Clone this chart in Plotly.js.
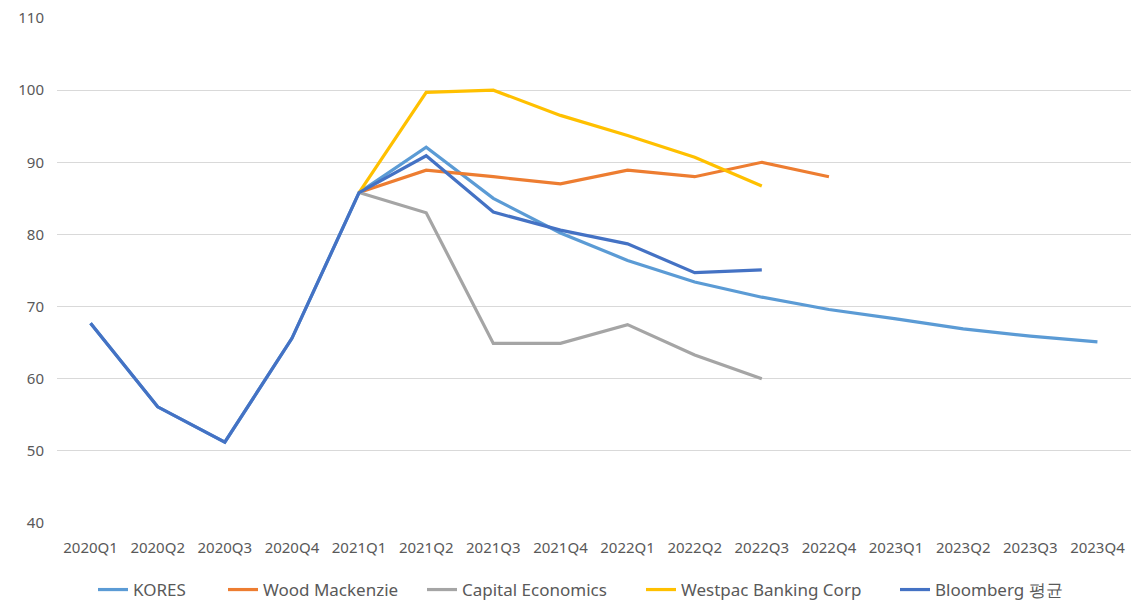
<!DOCTYPE html>
<html>
<head>
<meta charset="utf-8">
<script src="https://cdn.plot.ly/plotly-3.0.1.min.js"></script>
<style>html,body{margin:0;padding:0;background:#fff;}#chart{width:1131px;height:602px;}</style>
</head>
<body>
<div id="chart"></div>
<script>
const quarters = ["2020Q1","2020Q2","2020Q3","2020Q4","2021Q1","2021Q2","2021Q3","2021Q4","2022Q1","2022Q2","2022Q3","2022Q4","2023Q1","2023Q2","2023Q3","2023Q4"];
const kores = [67.7,56.1,51.2,65.6,85.8,92.1,85.0,80.2,76.4,73.4,71.3,69.6,68.3,66.9,65.9,65.1];
const woodMackenzie = [null,null,null,null,85.8,88.9,88.0,87.0,88.9,88.0,90.0,88.0,null,null,null,null];
const capitalEconomics = [null,null,null,null,85.8,83.0,64.9,64.9,67.5,63.3,60.0,null,null,null,null,null];
const westpac = [null,null,null,null,85.8,99.7,100.0,96.5,93.7,90.7,86.7,null,null,null,null,null];
const bloomberg = [67.7,56.1,51.2,65.6,85.8,90.9,83.1,80.6,78.7,74.7,75.1,null,null,null,null,null];
const yTicks = [40,50,60,70,80,90,100,110];

const names = ["KORES","Wood Mackenzie","Capital Economics","Westpac Banking Corp","Bloomberg 평균"];
const colors = ["#5B9BD5","#ED7D31","#A5A5A5","#FFC000","#4472C4"];
const series = [kores, woodMackenzie, capitalEconomics, westpac, bloomberg];
const legendIds = ["legend","legend2","legend3","legend4","legend5"];

const traces = series.map((s,i)=>({
  x: quarters, y: s, name: names[i], type:'scatter', mode:'lines',
  line:{color:colors[i], width:3.2}, connectgaps:false, legend: legendIds[i]
}));

const ML = 57, PW = 1131 - 57;
const textStarts = [135, 265, 464, 683, 937];
const layout = {
  width:1131, height:602,
  margin:{l:ML, r:0, t:18, b:79},
  paper_bgcolor:'#fff', plot_bgcolor:'#fff',
  font:{family:'"Noto Sans", sans-serif', size:15, color:'#595959'},
  showlegend:true,
  xaxis:{type:'category', range:[-0.5,15.5], showgrid:false, zeroline:false, showline:false, ticks:'', ticklabelstandoff:14, tickfont:{size:15,color:'#595959'}, fixedrange:true, automargin:false},
  yaxis:{range:[40,110], tickvals:yTicks, showgrid:true, gridcolor:'#D9D9D9', gridwidth:1, zeroline:false, showline:false, ticks:'', ticklabelstandoff:12, tickfont:{size:15,color:'#595959'}, fixedrange:true, automargin:false}
};
legendIds.forEach((id,i)=>{
  layout[id] = {orientation:'h', x:(textStarts[i]-ML-42)/PW, xanchor:'left', yref:'container', y:(602-590)/602, yanchor:'middle',
    font:{size:17,color:'#595959'}, itemwidth:30, bgcolor:'rgba(0,0,0,0)'};
});
Plotly.newPlot('chart', traces, layout, {displayModeBar:false, staticPlot:true});
</script>
</body>
</html>
